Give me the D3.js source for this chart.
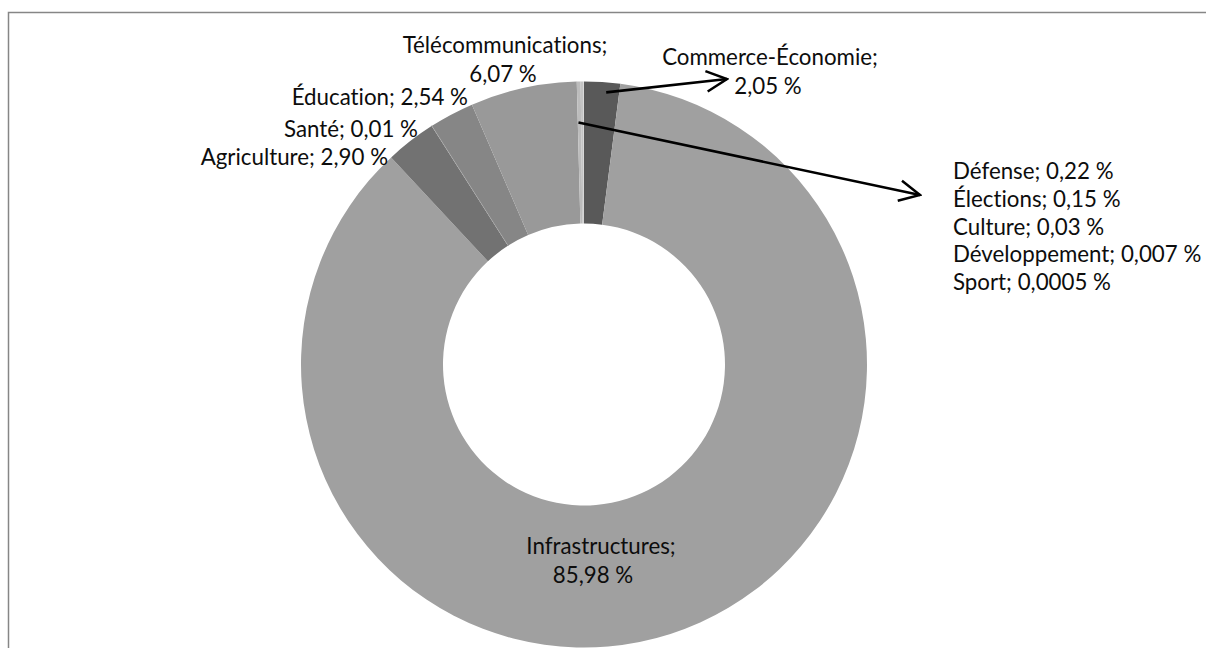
<!DOCTYPE html>
<html>
<head>
<meta charset="utf-8">
<script src="https://cdn.jsdelivr.net/npm/d3@7"></script>
<style>
  html, body { margin: 0; padding: 0; background: #fff; }
  svg text { font-family: Lato, "Open Sans", sans-serif; fill: #0d0d0d; font-variant-ligatures: none; }
</style>
</head>
<body>
<div id="chart"></div>
<script>
// Slices in clockwise order starting at 12 o'clock
const categories = ["Commerce-Économie", "Infrastructures", "Agriculture", "Santé", "Éducation",
                    "Télécommunications", "Défense", "Élections", "Culture", "Développement", "Sport"];
const values = [2.05, 85.98, 2.90, 0.01, 2.54, 6.07, 0.22, 0.15, 0.03, 0.007, 0.0005];
const valueLabels = ["2,05 %", "85,98 %", "2,90 %", "0,01 %", "2,54 %", "6,07 %",
                     "0,22 %", "0,15 %", "0,03 %", "0,007 %", "0,0005 %"];
const colors = ["#595959", "#a0a0a0", "#727272", "#b4b4b4", "#868686", "#999999",
                "#bcbcbc", "#c4c4c4", "#cccccc", "#d4d4d4", "#dcdcdc"];
// the small ones listed together on the right
const grouped = ["Défense", "Élections", "Culture", "Développement", "Sport"];

function draw_donut() {
    const W = 1206, H = 648;
    const cx = 584, cy = 364.5, outerR = 283, innerR = 141;

    const svg = d3.select("#chart").append("svg")
        .attr("width", W).attr("height", H);

    // chart area frame (runs off the right and bottom edges)
    svg.append("rect")
        .attr("x", 8.5).attr("y", 12.5)
        .attr("width", W + 20).attr("height", H + 20)
        .attr("fill", "none")
        .attr("stroke", "#868686")
        .attr("stroke-width", 1.5);

    const data = categories.map((c, i) => ({ name: c, value: values[i], label: valueLabels[i], color: colors[i] }));

    const pie = d3.pie().sort(null).value(d => d.value);
    const arcs = pie(data);
    const arc = d3.arc().innerRadius(innerR).outerRadius(outerR);

    const g = svg.append("g").attr("transform", `translate(${cx},${cy})`);

    g.selectAll("path.slice")
        .data(arcs)
        .enter().append("path")
        .attr("class", "slice")
        .attr("d", arc)
        .attr("fill", d => d.data.color)
        .attr("stroke", d => d.data.name === "Santé" ? "#b4b4b4" : "none")
        .attr("stroke-width", 1);

    // arrows
    const defs = svg.append("defs");
    defs.append("marker")
        .attr("id", "arrow")
        .attr("viewBox", "0 0 12 12")
        .attr("refX", 11).attr("refY", 6)
        .attr("markerWidth", 9.5).attr("markerHeight", 9.5)
        .attr("markerUnits", "strokeWidth")
        .attr("orient", "auto")
        .append("path")
        .attr("d", "M1,1 L11,6 L1,11")
        .attr("fill", "none")
        .attr("stroke", "#000")
        .attr("stroke-width", 1.2);

    const byName = {};
    arcs.forEach(a => byName[a.data.name] = a);

    // arrow 1: from inside Commerce slice to its label
    const a1 = byName["Commerce-Économie"];
    const p1 = d3.arc().innerRadius(273).outerRadius(273)
        .startAngle(a1.startAngle).endAngle(a1.endAngle + 0.034).centroid();
    // arrow 2: from the cluster of tiny slices to the list on the right
    const gs = grouped.map(n => byName[n]);
    const p2 = d3.arc().innerRadius(242).outerRadius(242)
        .startAngle(gs[0].startAngle - 0.01).endAngle(gs[gs.length - 1].endAngle - 0.01).centroid();

    const arrows = [
        { from: [cx + p1[0], cy + p1[1]], to: [727, 79] },
        { from: [cx + p2[0], cy + p2[1]], to: [920, 195] }
    ];
    svg.selectAll("line.arrow")
        .data(arrows)
        .enter().append("line")
        .attr("class", "arrow")
        .attr("x1", d => d.from[0]).attr("y1", d => d.from[1])
        .attr("x2", d => d.to[0]).attr("y2", d => d.to[1])
        .attr("stroke", "#000")
        .attr("stroke-width", 2.6)
        .attr("marker-end", "url(#arrow)");

    // label layout
    const fs = 22.3;
    const twoLine = {
        "Télécommunications": { x: 505, y: 53, dx: -2 },
        "Commerce-Économie": { x: 770, y: 65, dx: -2 },
        "Infrastructures": { x: 601, y: 554, dx: -8 }
    };
    const leftSide = {
        "Éducation": { x: 468, y: 105 },
        "Santé": { x: 418, y: 137 },
        "Agriculture": { x: 388, y: 165 }
    };

    const labels = svg.append("g");
    data.forEach(d => {
        if (twoLine[d.name]) {
            const p = twoLine[d.name];
            const t = labels.append("text")
                .attr("text-anchor", "middle")
                .style("font-size", fs + "px");
            t.append("tspan").attr("x", p.x).attr("y", p.y).text(d.name + ";");
            t.append("tspan").attr("x", p.x + p.dx).attr("y", p.y + 29).text(d.label);
        } else if (leftSide[d.name]) {
            const p = leftSide[d.name];
            labels.append("text")
                .attr("x", p.x).attr("y", p.y)
                .attr("text-anchor", "end")
                .style("font-size", fs + "px")
                .text(d.name + "; " + d.label);
        }
    });

    grouped.forEach((n, i) => {
        const d = byName[n].data;
        labels.append("text")
            .attr("x", 953).attr("y", 179 + i * 27.8)
            .style("font-size", fs + "px")
            .text(d.name + "; " + d.label);
    });
}

draw_donut();
</script>
</body>
</html>
